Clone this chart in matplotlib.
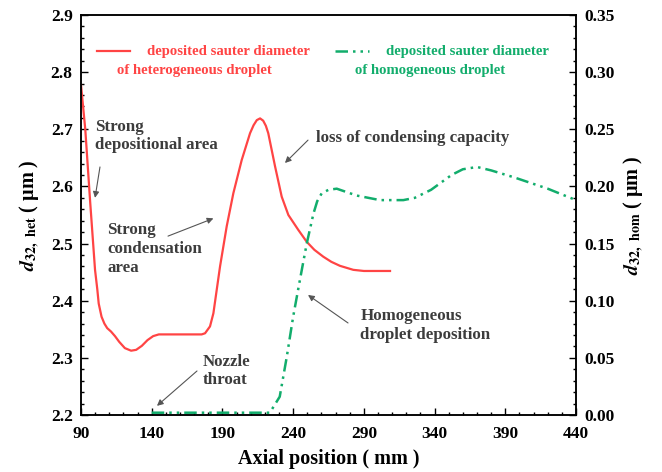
import matplotlib
matplotlib.use('Agg')
import numpy as np
import matplotlib.pyplot as plt
from matplotlib.lines import Line2D
from matplotlib.ticker import MultipleLocator, FixedLocator, FormatStrFormatter

plt.rcParams['font.family'] = ['Liberation Serif', 'DejaVu Serif']
plt.rcParams['font.weight'] = 'bold'
plt.rcParams['mathtext.fontset'] = 'stix'

# heterogeneous droplet deposited sauter diameter (left axis, um)
het_x = [90, 93, 96.4, 99.9, 101.5, 102.5, 104.5, 106.5, 108.5, 111.2, 114, 117,
         121, 125.4, 129, 133, 137, 141, 145, 160, 175.3, 177.7, 181.2, 183.6,
         188.3, 193, 197.7, 203.6, 209.5, 212, 214.3, 216.6, 218.8, 220.7, 222.4,
         227.2, 231.9, 236.6, 243.6, 249.6, 255, 261.3, 267, 273.1, 282.5, 290,
         308.5]
het_y = [2.777, 2.70, 2.575, 2.454, 2.42, 2.395, 2.372, 2.360, 2.352, 2.346,
         2.338, 2.328, 2.317, 2.3125, 2.314, 2.321, 2.331, 2.338, 2.341, 2.341,
         2.341, 2.343, 2.355, 2.378, 2.460, 2.530, 2.588, 2.646, 2.693, 2.707,
         2.716, 2.719, 2.715, 2.706, 2.693, 2.635, 2.582, 2.550, 2.524, 2.503,
         2.489, 2.477, 2.468, 2.461, 2.454, 2.452, 2.452]

# homogeneous droplet deposited sauter diameter (right axis, um)
hom_x = [140, 160, 180, 200, 223.5, 230.5, 235.5, 240, 244.9, 249.6, 254.3,
         257, 260.2, 265, 270.8, 284.9, 301.4, 317.9, 326, 337.5, 352, 360, 370,
         380, 396, 420, 440]
hom_y = [0.002, 0.002, 0.002, 0.002, 0.002, 0.016, 0.051, 0.086, 0.119, 0.150,
         0.176, 0.187, 0.194, 0.197, 0.198, 0.192, 0.188, 0.188, 0.19, 0.197,
         0.210, 0.215, 0.217, 0.214, 0.208, 0.198, 0.188]

x_ticks = np.arange(90, 441, 50)

red = '#ff4444'
green = '#12ad6c'
note = '#3c3c3c'
dashdotdot = (0, (5, 2, 1, 2, 1, 2))

fig = plt.figure(figsize=(6.62, 4.72), dpi=100)
ax = fig.add_axes([0.1224, 0.1208, 0.7477, 0.8475])
ax2 = ax.twinx()

ax.plot(het_x, het_y, color=red, lw=1.6)
ax2.plot(hom_x, hom_y, color=green, lw=1.8, linestyle=dashdotdot)

ax.set_xlim(90, 440)
ax.set_ylim(2.2, 2.9)
ax2.set_ylim(0, 0.35)
ax.xaxis.set_major_locator(FixedLocator(x_ticks))
ax.xaxis.set_minor_locator(MultipleLocator(10))
ax.yaxis.set_major_locator(MultipleLocator(0.1))
ax.yaxis.set_minor_locator(MultipleLocator(0.02))
ax2.yaxis.set_major_locator(MultipleLocator(0.05))
ax2.yaxis.set_minor_locator(MultipleLocator(0.01))
ax.xaxis.set_major_formatter(FormatStrFormatter('%d'))
ax.yaxis.set_major_formatter(FormatStrFormatter('%.1f'))
ax2.yaxis.set_major_formatter(FormatStrFormatter('%.2f'))

for a in (ax, ax2):
    a.tick_params(which='both', direction='in', width=1.0, labelsize=12.5, pad=6)
    a.tick_params(which='major', length=5)
    a.tick_params(which='minor', length=2.5)
    for s in a.spines.values():
        s.set_linewidth(1.1)
ax.tick_params(top=False, right=False)
ax.tick_params(axis='x', which='both', pad=8)
ax2.tick_params(left=False)

ax.set_xlabel('Axial position ( mm )', fontsize=14.5, fontweight='bold', labelpad=5)
ax.set_ylabel(r'$\mathbfit{d}_{\mathbf{32,\ het}}$ ( μm )', fontsize=14.5,
              fontweight='bold', labelpad=6)
ax2.set_ylabel(r'$\mathbfit{d}_{\mathbf{32,\ hom}}$ ( μm )', fontsize=14.5,
               fontweight='bold', labelpad=5)

# legend drawn by hand so each label can sit on two centred lines
ax.add_line(Line2D([0.032, 0.099], [0.91, 0.91], transform=ax.transAxes,
                   color=red, lw=1.6))
ax.text(0.297, 0.908, 'deposited sauter diameter', transform=ax.transAxes,
        color=red, fontsize=10.6, ha='center', va='center')
ax.text(0.230, 0.862, 'of heterogeneous droplet', transform=ax.transAxes,
        color=red, fontsize=10.6, ha='center', va='center')
ax.add_line(Line2D([0.513, 0.582], [0.91, 0.91], transform=ax.transAxes,
                   color=green, lw=1.8, linestyle=dashdotdot))
ax.text(0.780, 0.908, 'deposited sauter diameter', transform=ax.transAxes,
        color=green, fontsize=10.6, ha='center', va='center')
ax.text(0.705, 0.860, 'of homogeneous droplet', transform=ax.transAxes,
        color=green, fontsize=10.6, ha='center', va='center')

arrow = dict(arrowstyle='-|>', color='#555555', lw=0.8, mutation_scale=9,
             shrinkA=0, shrinkB=0)

ax.text(99.9, 2.718, 'Strong\ndepositional area', color=note, fontsize=12.2,
        ha='left', va='top', linespacing=1.2)
ax.annotate('', xy=(99.9, 2.580), xytext=(103.4, 2.634), arrowprops=arrow)

ax.text(256.2, 2.685, 'loss of condensing capacity', color=note, fontsize=12.2,
        ha='left', va='center')
ax.annotate('', xy=(234.2, 2.641), xytext=(250.5, 2.681), arrowprops=arrow)

ax.text(108.6, 2.537, 'Strong\ncondensation\narea', color=note, fontsize=12.2,
        ha='left', va='top', linespacing=1.25)
ax.annotate('', xy=(183.6, 2.544), xytext=(151.5, 2.513), arrowprops=arrow)

ax.text(176.3, 2.307, 'Nozzle\nthroat', color=note, fontsize=12.2,
        ha='left', va='top', linespacing=1.2)
ax.annotate('', xy=(143.7, 2.216), xytext=(172.0, 2.277), arrowprops=arrow)

ax.text(287.5, 2.387, 'Homogeneous\ndroplet deposition', color=note, fontsize=12.2,
        ha='left', va='top', linespacing=1.2)
ax.annotate('', xy=(250.5, 2.410), xytext=(278.8, 2.361), arrowprops=arrow)

fig.savefig('out.png', dpi=100)
